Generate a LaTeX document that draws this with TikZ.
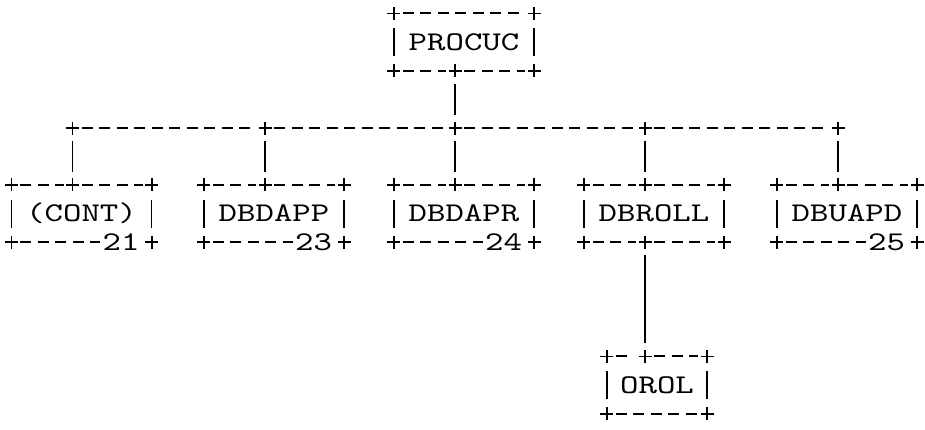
\documentclass[tikz,border=0pt]{standalone}
\usepackage{fontspec}
\newfontfamily\typew[FakeStretch=1.3]{lmmono10-regular.otf}
\usepackage{tikz}

\begin{document}
\begin{tikzpicture}[x=1pt,y=-1pt,
  box/.style={minimum width=140pt,minimum height=57pt,inner sep=0pt,font=\typew\fontsize{27}{27}\selectfont},
  num/.style={anchor=east,inner sep=0pt,font=\typew\fontsize{27}{27}\selectfont},
  dashrule/.style={line width=1.8pt,dash pattern=on 11pt off 6.5pt,shorten <=9pt,shorten >=9pt},
  bar/.style={line width=1.5pt},
  link/.style={line width=1.5pt,shorten <=13pt,shorten >=13pt},
  pls/.pic={\draw[line width=1.6pt] (-6.5,0) -- (6.5,0) (0,-6.5) -- (0,6.5);}]
\useasboundingbox (0,0) rectangle (925,429);
\node[box] (procuc) at (464,42) {PROCUC};
\node[box] (cont) at (81.5,213.5) {(CONT)};
\node[box] (dbdapp) at (274,213.5) {DBDAPP};
\node[box] (dbdapr) at (464,213.5) {DBDAPR};
\node[box] (dbroll) at (654,213.5) {DBROLL};
\node[box] (dbuapd) at (847,213.5) {DBUAPD};
\node[box,minimum width=100pt] (orol) at (657,385) {OROL};
\foreach \b in {cont,dbdapp,dbdapr,dbroll,dbuapd}
 \coordinate (b\b) at ([xshift=-9pt]\b.center |- 0,128);
\foreach \b in {procuc,cont,dbdapp,dbdapr,dbroll,dbuapd,orol}{
 \draw[bar] ([yshift=-14pt]\b.west) -- ([yshift=14pt]\b.west);
 \draw[bar] ([yshift=-14pt]\b.east) -- ([yshift=14pt]\b.east);
 \pic at (\b.north west) {pls};
 \pic at (\b.north east) {pls};
 \pic at (\b.south west) {pls};
 \pic at (\b.south east) {pls};
}
\draw[dashrule] (procuc.north west) -- (procuc.north east);
\draw[dashrule] (procuc.south west) -- (procuc.south -| bdbdapr);
\draw[dashrule] (procuc.south -| bdbdapr) -- (procuc.south east);
\draw[dashrule] (dbroll.south west) -- (dbroll.south -| bdbroll);
\draw[dashrule] (dbroll.south -| bdbroll) -- (dbroll.south east);
\draw[dashrule,shorten >=13pt] (orol.north west) -- (orol.north -| bdbroll);
\draw[dashrule] (orol.north -| bdbroll) -- (orol.north east);
\draw[dashrule] (orol.south west) -- (orol.south east);
\foreach \b in {cont,dbdapp,dbdapr,dbroll,dbuapd}{
 \draw[dashrule] (\b.north west) -- (\b.north -| b\b);
 \draw[dashrule] (\b.north -| b\b) -- (\b.north east);
 \draw[link] (b\b) -- (\b.north -| b\b);
 \pic at (b\b) {pls};
 \pic at (\b.north -| b\b) {pls};
}
\foreach \b/\n in {cont/21,dbdapp/23,dbdapr/24,dbuapd/25}{
 \node[num] (n\n) at ([xshift=-12pt]\b.south east) {\n};
 \draw[dashrule,shorten >=2pt] (\b.south west) -- (n\n.west);
}
\foreach \a/\c in {cont/dbdapp,dbdapp/dbdapr,dbdapr/dbroll,dbroll/dbuapd}
 \draw[dashrule] (b\a) -- (b\c);
\draw[link] (procuc.south -| bdbdapr) -- (bdbdapr);
\draw[link] (dbroll.south -| bdbroll) -- (orol.north -| bdbroll);
\pic at (procuc.south -| bdbdapr) {pls};
\pic at (dbroll.south -| bdbroll) {pls};
\pic at (orol.north -| bdbroll) {pls};
\end{tikzpicture}
\end{document}
